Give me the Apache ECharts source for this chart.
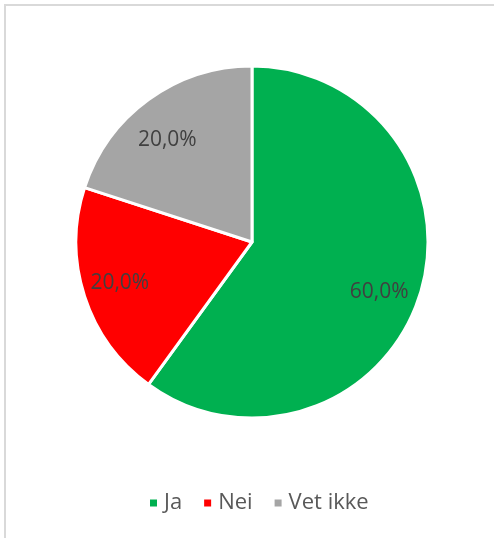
<!DOCTYPE html>
<html>
<head>
<meta charset="utf-8">
<script src="https://cdn.jsdelivr.net/npm/echarts@6/dist/echarts.min.js"></script>
<style>
html,body{margin:0;padding:0;background:#fff;}
#c{width:494px;height:538px;}
</style>
</head>
<body>
<div id="c"></div>
<script>
var categories = ['Ja', 'Nei', 'Vet ikke'];
var values = [60.0, 20.0, 20.0];
var colors = ['#00B050', '#FF0000', '#A5A5A5'];
// label nudges (padding) to match the reference's label placement
var labelPads = [[14, 10, 0, 0], [0, 0, 4, 0], [20, 6, 0, 0]];

var chart = echarts.init(document.getElementById('c'), null, {renderer: 'canvas'});
var data = categories.map(function (c, i) {
  return {name: c, value: values[i], itemStyle: {color: colors[i]}};
});
function fmt(p) {
  return '{v' + p.dataIndex + '|' + p.value.toFixed(1).replace('.', ',') + '%}';
}
var rich = {};
labelPads.forEach(function (pad, i) {
  rich['v' + i] = {
    fontFamily: 'Open Sans',
    fontSize: 21,
    color: '#404040',
    padding: pad
  };
});
chart.setOption({
  animation: false,
  graphic: [
    {type: 'line', shape: {x1: 4, y1: 5, x2: 494, y2: 5}, style: {stroke: '#D9D9D9', lineWidth: 2}, silent: true},
    {type: 'line', shape: {x1: 5, y1: 4, x2: 5, y2: 538}, style: {stroke: '#D9D9D9', lineWidth: 2}, silent: true}
  ],
  legend: {
    data: categories,
    left: 148,
    top: 492,
    padding: 0,
    icon: 'rect',
    itemWidth: 9,
    itemHeight: 9,
    itemGap: 20,
    textStyle: {fontFamily: 'Open Sans', fontSize: 22, color: '#595959', padding: [0, 0, 0, 1]}
  },
  series: [
    {
      type: 'pie',
      center: [252, 242],
      radius: [0, 176],
      startAngle: 90,
      clockwise: true,
      data: data,
      label: {show: false},
      labelLine: {show: false},
      itemStyle: {borderColor: '#FFFFFF', borderWidth: 3},
      emphasis: {disabled: true},
      silent: true
    },
    {
      type: 'pie',
      center: [252, 242],
      radius: [96, 176],
      startAngle: 90,
      clockwise: true,
      data: categories.map(function (c, i) {
        return {
          name: c,
          value: values[i],
          itemStyle: {color: 'rgba(0,0,0,0)'}
        };
      }),
      label: {
        show: true,
        position: 'inside',
        formatter: fmt,
        rich: rich,
        fontFamily: 'Open Sans',
        fontSize: 21,
        color: '#404040'
      },
      labelLine: {show: false},
      itemStyle: {borderWidth: 0},
      emphasis: {disabled: true},
      silent: true
    }
  ]
});
</script>
</body>
</html>
